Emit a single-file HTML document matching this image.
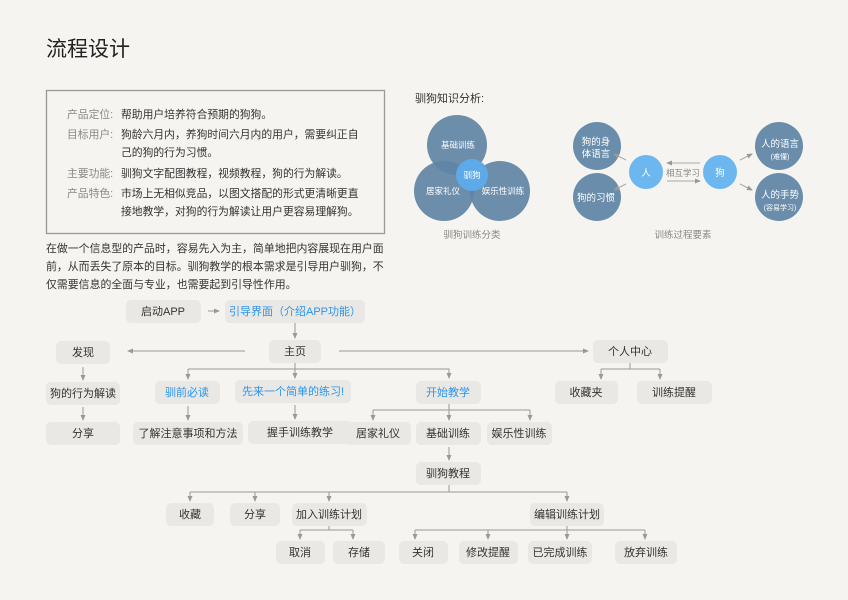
<!DOCTYPE html>
<html><head><meta charset="utf-8"><style>
body{margin:0;background:#f5f4f0;}
svg{display:block;font-family:"Liberation Sans","Noto Sans CJK SC",sans-serif;}
</style></head><body>
<svg width="848" height="600" viewBox="0 0 848 600">
<defs>
<marker id="a" markerWidth="6" markerHeight="6" refX="5" refY="3" orient="auto"><path d="M0,0.5 L6,3 L0,5.5Z" fill="#999"/></marker>
</defs>
<rect width="848" height="600" fill="#f5f4f0"/>
<text x="46" y="56" font-size="21" fill="#222">流程设计</text>
<rect x="46.5" y="90.5" width="338" height="143" fill="none" stroke="#999" stroke-width="1.3"/>
<g font-size="10.8" fill="#333">
<text x="67" y="118" fill="#888">产品定位:</text><text x="121" y="118">帮助用户培养符合预期的狗狗。</text>
<text x="67" y="138" fill="#888">目标用户:</text><text x="121" y="138">狗龄六月内，养狗时间六月内的用户，需要纠正自</text>
<text x="121" y="156">己的狗的行为习惯。</text>
<text x="67" y="177" fill="#888">主要功能:</text><text x="121" y="177">驯狗文字配图教程，视频教程，狗的行为解读。</text>
<text x="67" y="197" fill="#888">产品特色:</text><text x="121" y="197">市场上无相似竞品，以图文搭配的形式更清晰更直</text>
<text x="121" y="215">接地教学，对狗的行为解读让用户更容易理解狗。</text>
</g>
<g font-size="10.9" fill="#333">
<text x="46" y="252">在做一个信息型的产品时，容易先入为主，简单地把内容展现在用户面</text>
<text x="46" y="270">前，从而丢失了原本的目标。驯狗教学的根本需求是引导用户驯狗，不</text>
<text x="46" y="288">仅需要信息的全面与专业，也需要起到引导性作用。</text>
</g>
<text x="415" y="102" font-size="11" fill="#333">驯狗知识分析:</text>
<g fill="#5f84a5" fill-opacity="0.92">
<circle cx="457" cy="145" r="30"/><circle cx="444" cy="191" r="30"/><circle cx="500" cy="191" r="30"/>
</g>
<circle cx="472" cy="175" r="16" fill="#5ea9e8"/>
<g font-size="8.5" fill="#fff" text-anchor="middle">
<text x="458" y="148">基础训练</text><text x="443" y="194">居家礼仪</text><text x="503" y="194">娱乐性训练</text><text x="472" y="178">驯狗</text>
</g>
<text x="472" y="238" font-size="9.5" fill="#888" text-anchor="middle">驯狗训练分类</text>
<g fill="#6a8dab">
<circle cx="597" cy="146" r="24"/><circle cx="597" cy="197" r="24"/><circle cx="779" cy="146" r="24"/><circle cx="779" cy="197" r="24"/>
</g>
<circle cx="646" cy="172" r="17" fill="#6cb7f0"/><circle cx="720" cy="172" r="17" fill="#6cb7f0"/>
<g font-size="9.5" fill="#fff" text-anchor="middle">
<text x="596" y="145">狗的身</text><text x="596" y="157">体语言</text><text x="596" y="201">狗的习惯</text>
<text x="646" y="176">人</text><text x="720" y="176">狗</text>
<text x="780" y="147">人的语言</text><text x="780" y="159" font-size="7">(难懂)</text>
<text x="780" y="198">人的手势</text><text x="780" y="210" font-size="7">(容易学习)</text>
</g>
<g stroke="#aaa" stroke-width="1" marker-end="url(#a)">
<line x1="626" y1="160" x2="614" y2="154"/><line x1="626" y1="184" x2="614" y2="190"/>
<line x1="740" y1="160" x2="752" y2="154"/><line x1="740" y1="184" x2="752" y2="190"/>
<line x1="700" y1="163" x2="667" y2="163"/><line x1="667" y1="181" x2="700" y2="181"/>
</g>
<text x="683" y="176" font-size="8.5" fill="#888" text-anchor="middle">相互学习</text>
<text x="683" y="238" font-size="9.5" fill="#888" text-anchor="middle">训练过程要素</text>

<g stroke="#999" stroke-width="1" fill="none">
<line x1="208" y1="311" x2="219" y2="311" marker-end="url(#a)"/>
<line x1="295" y1="323" x2="295" y2="338" marker-end="url(#a)"/>
<line x1="245" y1="351" x2="128" y2="351" marker-end="url(#a)"/>
<line x1="339" y1="351" x2="588" y2="351" marker-end="url(#a)"/>
<line x1="83" y1="367" x2="83" y2="380" marker-end="url(#a)"/>
<line x1="83" y1="407" x2="83" y2="420" marker-end="url(#a)"/>
<line x1="295" y1="363" x2="295" y2="378" marker-end="url(#a)"/>
<polyline points="188,369 449,369 449,378" marker-end="url(#a)"/>
<line x1="188" y1="369" x2="188" y2="379" marker-end="url(#a)"/>
<line x1="188" y1="406" x2="188" y2="420" marker-end="url(#a)"/>
<line x1="295" y1="405" x2="295" y2="419" marker-end="url(#a)"/>
<line x1="630" y1="363" x2="630" y2="369"/>
<polyline points="601,369 660,369"/>
<line x1="601" y1="369" x2="601" y2="379" marker-end="url(#a)"/>
<line x1="660" y1="369" x2="660" y2="379" marker-end="url(#a)"/>
<line x1="449" y1="404" x2="449" y2="420" marker-end="url(#a)"/>
<polyline points="373,410 530,410"/>
<line x1="373" y1="410" x2="373" y2="420" marker-end="url(#a)"/>
<line x1="530" y1="410" x2="530" y2="420" marker-end="url(#a)"/>
<line x1="449" y1="447" x2="449" y2="460" marker-end="url(#a)"/>
<line x1="449" y1="485" x2="449" y2="492"/>
<polyline points="190,492 567,492"/>
<line x1="190" y1="492" x2="190" y2="501" marker-end="url(#a)"/>
<line x1="255" y1="492" x2="255" y2="501" marker-end="url(#a)"/>
<line x1="329" y1="492" x2="329" y2="501" marker-end="url(#a)"/>
<line x1="567" y1="492" x2="567" y2="501" marker-end="url(#a)"/>
<line x1="329" y1="526" x2="329" y2="530"/>
<polyline points="300,530 353,530"/>
<line x1="300" y1="530" x2="300" y2="539" marker-end="url(#a)"/>
<line x1="353" y1="530" x2="353" y2="539" marker-end="url(#a)"/>
<line x1="567" y1="526" x2="567" y2="539" marker-end="url(#a)"/>
<polyline points="415,530 645,530"/>
<line x1="415" y1="530" x2="415" y2="539" marker-end="url(#a)"/>
<line x1="488" y1="530" x2="488" y2="539" marker-end="url(#a)"/>
<line x1="645" y1="530" x2="645" y2="539" marker-end="url(#a)"/>
</g>
<g fill="#e9e8e4">
<rect x="126" y="300" width="75" height="23" rx="5"/>
<rect x="225" y="300" width="140" height="23" rx="5"/>
<rect x="269" y="340" width="52" height="23" rx="5"/>
<rect x="56" y="341" width="54" height="23" rx="5"/>
<rect x="46" y="382" width="74" height="23" rx="5"/>
<rect x="46" y="422" width="74" height="23" rx="5"/>
<rect x="155" y="381" width="65" height="23" rx="5"/>
<rect x="235" y="380" width="116" height="23" rx="5"/>
<rect x="133" y="422" width="110" height="23" rx="5"/>
<rect x="248" y="421" width="105" height="23" rx="5"/>
<rect x="593" y="340" width="75" height="23" rx="5"/>
<rect x="416" y="381" width="65" height="23" rx="5"/>
<rect x="555" y="381" width="63" height="23" rx="5"/>
<rect x="637" y="381" width="75" height="23" rx="5"/>
<rect x="346" y="422" width="65" height="23" rx="5"/>
<rect x="416" y="422" width="65" height="23" rx="5"/>
<rect x="487" y="422" width="65" height="23" rx="5"/>
<rect x="416" y="462" width="65" height="23" rx="5"/>
<rect x="166" y="503" width="48" height="23" rx="5"/>
<rect x="230" y="503" width="50" height="23" rx="5"/>
<rect x="292" y="503" width="75" height="23" rx="5"/>
<rect x="530" y="503" width="74" height="23" rx="5"/>
<rect x="276" y="541" width="49" height="23" rx="5"/>
<rect x="333" y="541" width="52" height="23" rx="5"/>
<rect x="399" y="541" width="49" height="23" rx="5"/>
<rect x="459" y="541" width="59" height="23" rx="5"/>
<rect x="528" y="541" width="64" height="23" rx="5"/>
<rect x="615" y="541" width="62" height="23" rx="5"/>
</g>
<g font-size="11" fill="#333" text-anchor="middle">
<text x="163" y="315">启动APP</text>
<text x="295" y="315" fill="#2b95ef">引导界面（介绍APP功能）</text>
<text x="295" y="355">主页</text>
<text x="83" y="356">发现</text>
<text x="83" y="397">狗的行为解读</text>
<text x="83" y="437">分享</text>
<text x="187" y="396" fill="#2b95ef">驯前必读</text>
<text x="293" y="395" fill="#2b95ef">先来一个简单的练习!</text>
<text x="188" y="437">了解注意事项和方法</text>
<text x="300" y="436">握手训练教学</text>
<text x="630" y="355">个人中心</text>
<text x="448" y="396" fill="#2b95ef">开始教学</text>
<text x="586" y="396">收藏夹</text>
<text x="674" y="396">训练提醒</text>
<text x="378" y="437">居家礼仪</text>
<text x="448" y="437">基础训练</text>
<text x="519" y="437">娱乐性训练</text>
<text x="448" y="477">驯狗教程</text>
<text x="190" y="518">收藏</text>
<text x="255" y="518">分享</text>
<text x="329" y="518">加入训练计划</text>
<text x="567" y="518">编辑训练计划</text>
<text x="300" y="556">取消</text>
<text x="359" y="556">存储</text>
<text x="423" y="556">关闭</text>
<text x="488" y="556">修改提醒</text>
<text x="560" y="556">已完成训练</text>
<text x="646" y="556">放弃训练</text>
</g>
</svg>
</body></html>
